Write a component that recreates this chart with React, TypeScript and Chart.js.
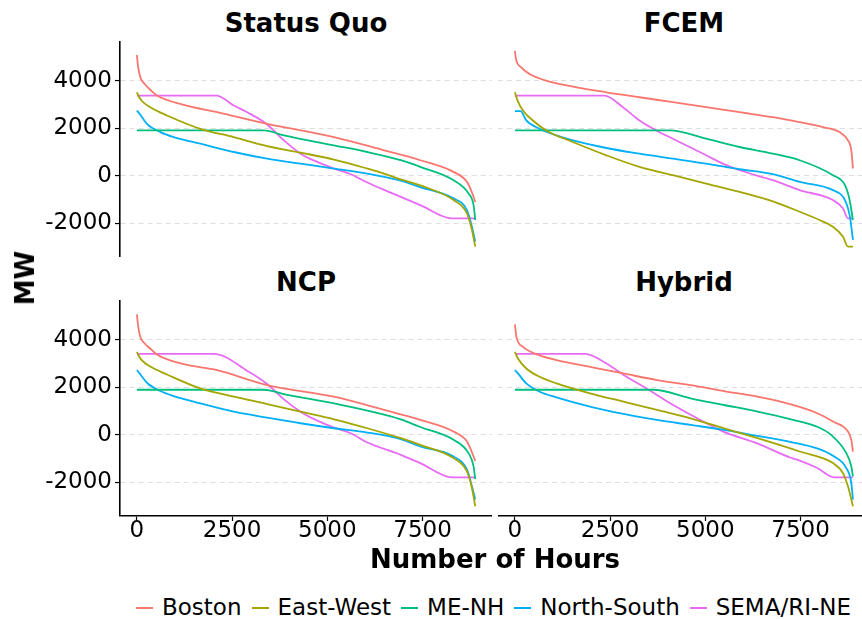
import React, { useEffect, useRef } from "react";
import { Chart, registerables } from "chart.js";

Chart.register(...registerables);

// ---------- data ----------
const regions = ["Boston", "East-West", "ME-NH", "North-South", "SEMA/RI-NE"];
const regionColors = ["#F8766D", "#A3A500", "#00BF7D", "#00B0F6", "#E76BF3"];
const scenarios = ["Status Quo", "FCEM", "NCP", "Hybrid"];
const yTickValues = [-2000, 0, 2000, 4000];
const xTickValues = [0, 2500, 5000, 7500];

// [hours, MW] duration-curve points
const sqBoston = [[0,5080],[30,4600],[90,4150],[200,3870],[350,3620],[526,3380],[1200,3000],[2105,2680],[3420,2190],[5175,1630],[6490,1075],[7440,657],[8314,167],[8666,-251],[8840,-879],[8884,-1100]];
const sqEastWest = [[0,3515],[30,3400],[120,3167],[350,2888],[790,2540],[1666,1980],[2543,1630],[3420,1255],[4297,976],[5175,684],[6050,307],[6490,98],[6928,-150],[7440,-400],[8314,-1017],[8666,-1574],[8797,-2273],[8884,-2972]];
const sqMENH = [[0,1911],[3333,1911],[3860,1700],[5175,1283],[6050,1004],[6928,660],[7440,380],[8314,-180],[8708,-737],[8840,-1227],[8884,-1855]];
const sqNorthSouth = [[0,2748],[70,2609],[263,2190],[614,1841],[965,1632],[1666,1353],[2543,1004],[3420,725],[4297,516],[5175,307],[6050,98],[6928,-200],[7440,-470],[8314,-946],[8666,-1436],[8797,-2134],[8884,-2763]];
const sqSema = [[0,3376],[2087,3376],[2543,2957],[2894,2678],[3420,2162],[3860,1493],[4297,935],[4736,586],[5175,307],[5613,70],[6050,-280],[6490,-590],[6928,-880],[7440,-1227],[8272,-1786],[8884,-1786]];

const fcemBoston = [[0,5260],[30,4910],[166,4560],[385,4283],[822,4004],[1522,3753],[2400,3515],[3272,3306],[4148,3097],[5022,2888],[5898,2678],[6772,2469],[7472,2260],[8085,2050],[8522,1841],[8745,1493],[8833,1076],[8876,310]];
const fcemEastWest = [[0,3515],[70,3167],[210,2748],[472,2330],[822,1911],[1522,1423],[2400,865],[3272,377],[4148,28],[5022,-321],[5898,-670],[6772,-1070],[7476,-1507],[7999,-1855],[8351,-2135],[8613,-2553],[8745,-2972],[8876,-2972]];
const fcemMENH = [[0,1911],[4060,1911],[5022,1562],[5898,1214],[6772,935],[7476,657],[8351,29],[8666,-389],[8790,-1017],[8876,-1855]];
const fcemNorthSouth = [[0,2720],[150,2720],[297,2330],[647,1981],[1085,1702],[1522,1493],[2400,1172],[3272,935],[4148,725],[5022,516],[5898,279],[6772,70],[7476,-251],[8351,-599],[8666,-1017],[8797,-1716],[8876,-2690]];
const fcemSema = [[0,3376],[2354,3376],[2835,2888],[3272,2330],[3710,1911],[4148,1562],[4585,1214],[5022,865],[5460,516],[5898,237],[6772,-181],[7476,-599],[8351,-1017],[8613,-1365],[8745,-1786],[8876,-1786]];

const ncpBoston = [[0,5067],[30,4600],[90,4118],[200,3850],[351,3630],[526,3378],[1200,2980],[2105,2722],[3420,2094],[5175,1605],[6490,1047],[7440,628],[8314,140],[8666,-279],[8840,-907],[8884,-1100]];
const ncpEastWest = [[0,3490],[30,3380],[120,3150],[350,2870],[790,2540],[1666,1954],[2543,1605],[3420,1298],[4297,977],[5175,656],[6050,279],[6928,-140],[7440,-419],[8314,-977],[8666,-1535],[8797,-2233],[8884,-3000]];
const ncpMENH = [[0,1898],[3333,1898],[3860,1717],[5175,1326],[6050,1019],[6928,650],[7440,330],[8314,-209],[8708,-767],[8840,-1325],[8884,-1855]];
const ncpNorthSouth = [[0,2722],[70,2583],[263,2192],[614,1843],[965,1633],[1666,1326],[2543,977],[3420,726],[4297,489],[5175,279],[6050,98],[6928,-180],[7440,-488],[8314,-907],[8666,-1465],[8797,-2163],[8884,-2720]];
const ncpSema = [[0,3406],[2017,3406],[2938,2652],[3420,2136],[3860,1494],[4297,977],[4736,600],[5175,307],[5613,70],[6050,-321],[6928,-838],[7440,-1186],[8272,-1786],[8884,-1786]];

const hyBoston = [[0,4649],[40,4118],[211,3700],[475,3448],[1091,3141],[1971,2862],[2851,2583],[3731,2303],[4611,2094],[5491,1843],[6371,1605],[7251,1280],[7955,900],[8351,560],[8745,140],[8833,-209],[8876,-700]];
const hyEastWest = [[0,3490],[79,3211],[299,2792],[651,2443],[1091,2164],[1971,1745],[2851,1396],[3731,1047],[4611,698],[5491,279],[6371,-140],[7476,-698],[8351,-1186],[8614,-1605],[8745,-2163],[8876,-3000]];
const hyMENH = [[0,1898],[3643,1898],[4611,1536],[5491,1256],[6371,977],[7251,650],[7955,330],[8300,0],[8702,-767],[8833,-1325],[8876,-1744]];
const hyNorthSouth = [[0,2722],[79,2583],[299,2164],[651,1815],[1091,1577],[1971,1187],[2851,879],[3731,628],[4611,419],[5491,209],[6371,-42],[7251,-300],[7955,-580],[8351,-880],[8702,-1395],[8833,-2023],[8876,-2720]];
const hySema = [[0,3406],[1850,3406],[2403,3001],[2929,2443],[3455,1954],[4157,1256],[5034,489],[5472,140],[6349,-349],[7227,-950],[7476,-1080],[7928,-1380],[8395,-1786],[8876,-1786]];

const panelSeries = [
  [sqBoston, sqEastWest, sqMENH, sqNorthSouth, sqSema],
  [fcemBoston, fcemEastWest, fcemMENH, fcemNorthSouth, fcemSema],
  [ncpBoston, ncpEastWest, ncpMENH, ncpNorthSouth, ncpSema],
  [hyBoston, hyEastWest, hyMENH, hyNorthSouth, hySema],
];

// ---------- layout / style ----------
const X_MIN = -444;
const X_MAX = 9324;
const Y_MIN = -3410;
const Y_MAX = 5670;
const Y_AXIS_W = 120;
const X_AXIS_H = 46;
const PLOT_W = 372;
const PLOT_H = 216;
const FONT = "'DejaVu Sans', sans-serif";

Chart.defaults.font.family = FONT;

type PanelProps = {
  series: number[][][];
  showY: boolean;
  showX: boolean;
  left: number;
  top: number;
};

function Panel({ series, showY, showX, left, top }: PanelProps) {
  const ref = useRef<HTMLCanvasElement>(null);
  const width = (showY ? Y_AXIS_W : 0) + PLOT_W;
  const height = PLOT_H + (showX ? X_AXIS_H : 0);

  useEffect(() => {
    const zeroPad = (s: any) => {
      s.paddingLeft = 0;
      s.paddingRight = 0;
      s.paddingTop = 0;
      s.paddingBottom = 0;
    };
    const chart = new Chart(ref.current as HTMLCanvasElement, {
      type: "line",
      data: {
        datasets: series.map((pts, i) => ({
          label: regions[i],
          data: pts.map(([x, y]) => ({ x, y })),
          borderColor: regionColors[i],
          backgroundColor: regionColors[i],
          borderWidth: 1.8,
          pointRadius: 0,
          cubicInterpolationMode: "monotone" as const,
          fill: false,
        })),
      },
      options: {
        responsive: false,
        animation: false,
        devicePixelRatio: 1,
        layout: { padding: 0 },
        plugins: {
          legend: { display: false },
          tooltip: { enabled: false },
          title: { display: false },
        },
        scales: {
          x: {
            type: "linear",
            min: X_MIN,
            max: X_MAX,
            display: showX,
            afterBuildTicks: (s: any) => {
              s.ticks = xTickValues.map((v) => ({ value: v }));
            },
            afterFit: (s: any) => {
              s.height = showX ? X_AXIS_H : 0;
              zeroPad(s);
            },
            grid: {
              drawOnChartArea: false,
              drawTicks: true,
              tickLength: 5,
              tickColor: "#000",
              tickWidth: 1.2,
            },
            border: { display: true, color: "#000", width: 1.6 },
            ticks: {
              color: "#000",
              font: { size: 23 },
              padding: -4,
              maxRotation: 0,
              autoSkip: false,
              callback: (v: any) => String(v),
            },
          },
          y: {
            type: "linear",
            min: Y_MIN,
            max: Y_MAX,
            afterBuildTicks: (s: any) => {
              s.ticks = yTickValues.map((v) => ({ value: v }));
            },
            afterFit: (s: any) => {
              s.width = showY ? Y_AXIS_W : 0;
              zeroPad(s);
            },
            grid: {
              color: "#dedede",
              lineWidth: 1.1,
              drawTicks: showY,
              tickLength: 5,
              tickColor: "#000",
              tickWidth: 1.2,
            },
            border: { display: showY, color: "#000", width: 1.6, dash: [5, 4] },
            ticks: {
              display: showY,
              color: "#000",
              font: { size: 23 },
              padding: 3,
              callback: (v: any) => String(v),
            },
          },
        },
      },
    } as any);
    return () => chart.destroy();
  }, []);

  return (
    <canvas
      ref={ref}
      width={width}
      height={height}
      style={{ position: "absolute", left, top, width, height }}
    />
  );
}

const titleStyle: React.CSSProperties = {
  position: "absolute",
  fontFamily: FONT,
  fontWeight: "bold",
  fontSize: 26,
  lineHeight: "26px",
  whiteSpace: "nowrap",
  transform: "translateX(-50%)",
  color: "#000",
};

export default function App() {
  const panels = [
    { left: 0, top: 41, showY: true, showX: false, cx: 306, ty: 10 },
    { left: 498, top: 41, showY: false, showX: false, cx: 684, ty: 10 },
    { left: 0, top: 300, showY: true, showX: true, cx: 306, ty: 269 },
    { left: 498, top: 300, showY: false, showX: true, cx: 684, ty: 269 },
  ];
  return (
    <div
      style={{
        position: "absolute",
        left: 0,
        top: 0,
        width: 862,
        height: 619,
        overflow: "hidden",
        background: "#fff",
        fontFamily: FONT,
      }}
    >
      {panels.map((p, i) => (
        <React.Fragment key={i}>
          <div style={{ ...titleStyle, left: p.cx, top: p.ty }}>{scenarios[i]}</div>
          <Panel
            series={panelSeries[i]}
            showY={p.showY}
            showX={p.showX}
            left={p.left}
            top={p.top}
          />
        </React.Fragment>
      ))}
      <div style={{ ...titleStyle, left: 495, top: 546 }}>Number of Hours</div>
      <div
        style={{
          ...titleStyle,
          left: 25,
          top: 278,
          transform: "translate(-50%, -50%) rotate(-90deg)",
        }}
      >
        MW
      </div>
      <div
        style={{
          position: "absolute",
          left: 136,
          top: 596,
          height: 23,
          display: "flex",
          alignItems: "center",
          fontFamily: FONT,
          fontSize: 23,
          lineHeight: "23px",
          whiteSpace: "nowrap",
          color: "#000",
        }}
      >
        {regions.map((r, i) => (
          <div key={r} style={{ display: "flex", alignItems: "center", marginRight: 10 }}>
            <span
              style={{
                display: "inline-block",
                width: 17,
                height: 2,
                background: regionColors[i],
                marginRight: 9,
              }}
            />
            <span>{r}</span>
          </div>
        ))}
      </div>
    </div>
  );
}
